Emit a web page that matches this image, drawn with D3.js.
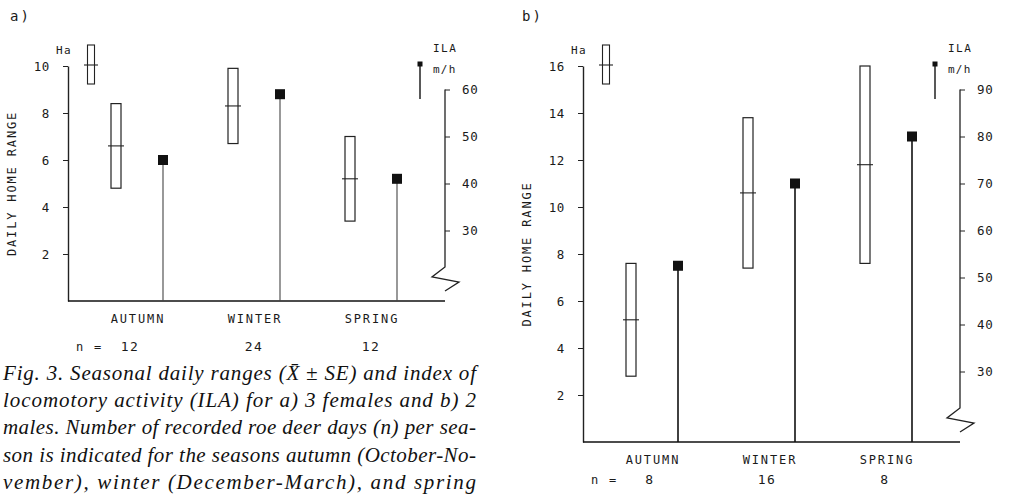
<!DOCTYPE html>
<html>
<head>
<meta charset="utf-8">
<script src="https://cdn.jsdelivr.net/npm/d3@7"></script>
<style>
  body { margin: 0; background: #fff; }
  svg { display: block; }
  .plot text { font-family: "DejaVu Sans Mono", monospace; fill: #1a1a1a; }
  .caption { font-family: "Liberation Serif", serif; font-style: italic; font-size: 21px; fill: #111; }
</style>
</head>
<body>
<script>
// values
const seasons = ["AUTUMN", "WINTER", "SPRING"]

const homeMeanA = [6.6, 8.3, 5.2]
const homeSeA = [1.8, 1.6, 1.8]
const ilaA = [45, 59, 41]
const nA = [12, 24, 12]

const homeMeanB = [5.2, 10.6, 11.8]
const homeSeB = [2.4, 3.2, 4.2]
const ilaB = [52.5, 70, 80]
const nB = [8, 16, 8]

const homeTicksA = [2, 4, 6, 8, 10]
const homeTicksB = [2, 4, 6, 8, 10, 12, 14, 16]
const ilaTicksA = [30, 40, 50, 60]
const ilaTicksB = [30, 40, 50, 60, 70, 80, 90]

const captionLines = [
  "Fig. 3. Seasonal daily ranges (X\u0304 \u00b1 SE) and index of",
  "locomotory activity (ILA) for a) 3 females and b) 2",
  "males. Number of recorded roe deer days (n) per sea-",
  "son is indicated for the seasons autumn (October-No-",
  "vember), winter (December-March), and spring"
]

let width = 1009
let height = 495

let svg = d3.select("body").append("svg")
  .attr("width", width)
  .attr("height", height)

svg.append("rect").attr("width", width).attr("height", height).attr("fill", "#fff")

const pxPerHa = 23.5

function drawPanel(opt) {
  let g = svg.append("g").attr("class", "plot")
  let x0 = opt.axisX, base = opt.baseline, x1 = opt.axisX + 377

  let y = d3.scaleLinear().domain([0, opt.homeMax]).range([base, base - opt.homeMax * pxPerHa])
  // ILA axis: 10 units of ILA = 2 ha; ILA 15 sits on the baseline
  let yIla = d3.scaleLinear().domain([15, opt.ilaMax]).range([base, y((opt.ilaMax - 15) / 5)])
  let x = d3.scalePoint().domain(seasons).range([x0 + 70, x0 + 304])

  let top = y(opt.homeMax)

  g.append("text").attr("x", opt.labelX).attr("y", 21)
    .style("font-size", "14px").style("letter-spacing", "2px").text(opt.label)

  // left axis
  let left = g.append("g").attr("transform", `translate(${x0},0)`)
    .call(d3.axisLeft(y).tickValues(opt.homeTicks).tickSize(5).tickSizeOuter(0).tickPadding(13))
  left.select(".domain").attr("stroke", "#222").attr("stroke-width", 1.4)
  left.selectAll(".tick line").attr("stroke", "#222")
  left.selectAll(".tick text").attr("font-family", "DejaVu Sans Mono").attr("font-size", 12.5)
    .attr("fill", "#1a1a1a").style("letter-spacing", "0.6px")

  g.append("text")
    .attr("transform", `translate(${x0 - 56},${(base + top) / 2}) rotate(-90)`)
    .attr("text-anchor", "middle").attr("dominant-baseline", "central")
    .style("font-size", "12px").style("letter-spacing", "1.85px")
    .text("DAILY HOME RANGE")

  // right axis (ILA) with break
  let right = g.append("g").attr("transform", `translate(${x1},0)`)
    .call(d3.axisRight(yIla).tickValues(opt.ilaTicks).tickSize(5).tickSizeOuter(0).tickPadding(12))
  right.select(".domain").remove()
  right.selectAll(".tick line").attr("stroke", "#222")
  right.selectAll(".tick text").attr("font-family", "DejaVu Sans Mono").attr("font-size", 12.5)
    .attr("fill", "#1a1a1a").style("letter-spacing", "0.6px")

  let brk = base - 34
  let zig = [[x1, yIla(opt.ilaMax)], [x1, brk], [x1 - 13, brk + 10], [x1 + 14, brk + 15], [x1, brk + 24]]
  g.append("path").attr("d", d3.line()(zig))
    .attr("fill", "none").attr("stroke", "#222").attr("stroke-width", 1.3)

  // baseline
  g.append("line").attr("x1", x0).attr("x2", x1).attr("y1", base).attr("y2", base)
    .attr("stroke", "#111").attr("stroke-width", 1.6)

  // legends
  g.append("text").attr("x", x0 - 12).attr("y", top - 12).style("font-size", "11px")
    .style("letter-spacing", "1.5px").text("Ha")
  let lx = x0 + 23
  g.append("rect").attr("x", lx - 3.5).attr("y", top - 21).attr("width", 7).attr("height", 39)
    .attr("fill", "#fff").attr("stroke", "#222").attr("stroke-width", 1.1)
  g.append("line").attr("x1", lx - 7).attr("x2", lx + 7).attr("y1", top - 1).attr("y2", top - 1)
    .attr("stroke", "#222").attr("stroke-width", 1.1)

  g.append("text").attr("x", x1 - 12).attr("y", 52).style("font-size", "11px")
    .style("letter-spacing", "1.5px").text("ILA")
  g.append("text").attr("x", x1 - 12).attr("y", 73).style("font-size", "11px")
    .style("letter-spacing", "1.2px").text("m/h")
  g.append("line").attr("x1", x1 - 25).attr("x2", x1 - 25).attr("y1", 64).attr("y2", 99)
    .attr("stroke", "#222").attr("stroke-width", 1.5)
  g.append("rect").attr("x", x1 - 27.5).attr("y", 61.5).attr("width", 5).attr("height", 5).attr("fill", "#111")

  let rows = seasons.map((s, i) => ({ s: s, mean: opt.mean[i], se: opt.se[i], ila: opt.ila[i], n: opt.n[i] }))

  // mean +- SE boxes
  g.selectAll(".box").data(rows).enter().append("rect")
    .attr("class", "box")
    .attr("x", d => x(d.s) - 22 - 5)
    .attr("y", d => y(d.mean + d.se))
    .attr("width", 10)
    .attr("height", d => y(d.mean - d.se) - y(d.mean + d.se))
    .attr("fill", "#fff").attr("stroke", "#222").attr("stroke-width", 1.2)
  g.selectAll(".mean").data(rows).enter().append("line")
    .attr("class", "mean")
    .attr("x1", d => x(d.s) - 22 - 8).attr("x2", d => x(d.s) - 22 + 8)
    .attr("y1", d => y(d.mean)).attr("y2", d => y(d.mean))
    .attr("stroke", "#222").attr("stroke-width", 1.1)

  // ILA stems
  g.selectAll(".stem").data(rows).enter().append("line")
    .attr("class", "stem")
    .attr("x1", d => x(d.s) + 25).attr("x2", d => x(d.s) + 25)
    .attr("y1", base).attr("y2", d => yIla(d.ila))
    .attr("stroke", opt.stemColor).attr("stroke-width", opt.stemWidth)
  g.selectAll(".sq").data(rows).enter().append("rect")
    .attr("class", "sq")
    .attr("x", d => x(d.s) + 25 - 5).attr("y", d => yIla(d.ila) - 5)
    .attr("width", 10).attr("height", 10).attr("fill", "#111")

  // season labels and n
  g.selectAll(".season").data(rows).enter().append("text")
    .attr("class", "season")
    .attr("x", d => x(d.s)).attr("y", base + 22)
    .attr("text-anchor", "middle").style("font-size", "12px").style("letter-spacing", "1.9px")
    .text(d => d.s)
  g.append("text").attr("x", x0 + 8).attr("y", base + opt.nOffset)
    .style("font-size", "12px").style("letter-spacing", "1.8px").text("n =")
  g.selectAll(".nval").data(rows).enter().append("text")
    .attr("class", "nval")
    .attr("x", (d, i) => x(d.s) + opt.nShift[i]).attr("y", base + opt.nOffset)
    .attr("text-anchor", "middle").style("font-size", "13px").style("letter-spacing", "1.5px")
    .text(d => d.n)
}

drawPanel({
  label: "a)", labelX: 10, axisX: 68, baseline: 301, homeMax: 10, ilaMax: 60,
  homeTicks: homeTicksA, ilaTicks: ilaTicksA,
  mean: homeMeanA, se: homeSeA, ila: ilaA, n: nA,
  nOffset: 50, nShift: [-8, -1, -1], stemColor: "#444", stemWidth: 1.1
})

drawPanel({
  label: "b)", labelX: 522, axisX: 583, baseline: 442, homeMax: 16, ilaMax: 90,
  homeTicks: homeTicksB, ilaTicks: ilaTicksB,
  mean: homeMeanB, se: homeSeB, ila: ilaB, n: nB,
  nOffset: 42, nShift: [-3, -3, -2], stemColor: "#111", stemWidth: 1.6
})

// caption (justified)
svg.append("g").selectAll("text")
  .data(captionLines).enter()
  .append("text")
  .attr("class", "caption")
  .attr("x", 3)
  .attr("y", (d, i) => 380 + i * 27.2)
  .attr("textLength", 473)
  .attr("lengthAdjust", "spacing")
  .text(d => d)
</script>
</body>
</html>
